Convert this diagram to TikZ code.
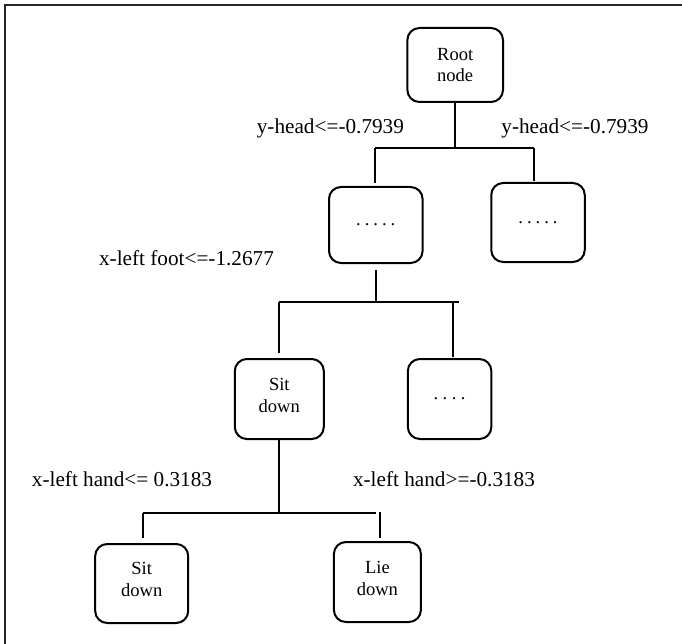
\documentclass[tikz,border=0pt]{standalone}
\usepackage{fontspec}
\setmainfont{Liberation Serif}
\newcommand{\dotsfive}{.\kern4bp.\kern4bp.\kern4bp.\kern4bp.}
\newcommand{\dotsfour}{.\kern4.5bp.\kern4.5bp.\kern4.5bp.}
\newcommand{\lowpad}{\rule[-8bp]{0pt}{0pt}}
\begin{document}
\begin{tikzpicture}[x=1bp,y=-1bp,
  box/.style={draw, line width=2bp, rounded corners=12bp, align=center,
    font=\fontsize{18.6}{22}\selectfont, inner sep=0pt},
  lbl/.style={font=\fontsize{21.3}{25}\selectfont, inner sep=0pt},
  conn/.style={line width=2bp}]
\useasboundingbox (0,0) rectangle (682,644);
\draw[line width=2bp, black!85] (5,644) -- (5,5.5) -- (682,5.5);

\node[box, minimum width=95.6bp, minimum height=74bp] (root) at (455.2,65) {Root\\node};
\node[box, minimum width=93.6bp, minimum height=76bp] (A) at (375.8,225) {\dotsfive};
\node[box, minimum width=93.5bp, minimum height=79bp] (B) at (538,222.5) {\dotsfive};
\node[box, minimum width=89bp, minimum height=80bp] (C) at (279.3,399) {Sit\\down\lowpad};
\node[box, minimum width=83.5bp, minimum height=80bp] (D) at (449.6,399) {\dotsfour};
\node[box, minimum width=93bp, minimum height=79bp] (E) at (141.7,583.5) {Sit\\down\lowpad};
\node[box, minimum width=87bp, minimum height=80bp] (F) at (377.4,582) {Lie\\down\lowpad};

\node[lbl] (l1) at (330.4,128) {y-head<=-0.7939};
\node[lbl] (l2) at (575,128) {y-head<=-0.7939};
\node[lbl] (l3) at (186.5,258) {x-left foot<=-1.2677};
\node[lbl] (l4) at (122,479) {x-left hand<= 0.3183};
\node[lbl] (l5) at (444,479) {x-left hand>=-0.3183};

% level 1
\coordinate (b1l) at (375,148);
\coordinate (b1r) at (534,148);
\draw[conn] (root.south) -- (root.south |- b1l);
\draw[conn] (b1l) -- (b1r);
\draw[conn, shorten >=3bp] (b1l) -- (b1l |- A.north);
\draw[conn, shorten >=1bp] (b1r) -- (b1r |- B.north);

% level 2
\coordinate (b2l) at (279,302);
\coordinate (b2r) at (458.7,302);
\coordinate (b2m) at (453,302);
\draw[conn, shorten <=6bp] (A.south) -- (A.south |- b2l);
\draw[conn] (b2l) -- (b2r);
\draw[conn, shorten >=5bp] (b2l) -- (b2l |- C.north);
\draw[conn, shorten >=1bp] (b2m) -- (b2m |- D.north);

% level 3
\coordinate (b3l) at (143,513);
\coordinate (b3r) at (376,513);
\coordinate (b3m) at (380.4,512);
\draw[conn] (C.south) -- (C.south |- b3l);
\draw[conn] (b3l) -- (b3r);
\draw[conn, shorten >=5bp] (b3l) -- (b3l |- E.north);
\draw[conn, shorten >=3bp] (b3m) -- (b3m |- F.north);
\end{tikzpicture}
\end{document}
